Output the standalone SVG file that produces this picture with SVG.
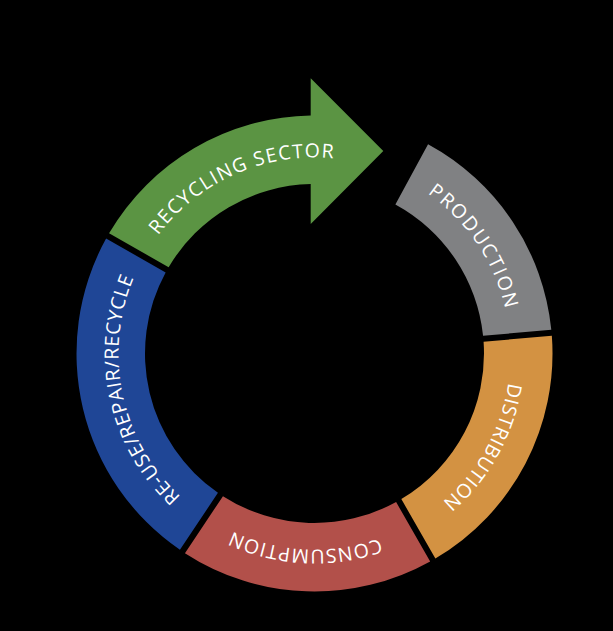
<svg xmlns="http://www.w3.org/2000/svg" width="613" height="631" viewBox="0 0 613 631">
  <style>
    .lbl { font-family: "Open Sans", Lato, "Liberation Sans", sans-serif; font-size: 19.5px; fill: #ffffff; }
    .seg { stroke: none; }
  </style>
  <defs>
    <path id="p-green" d="M 119.66 332.16 A 196 196 0 0 1 430.40 195.44"/>
    <path id="p-gray" d="M 300.83 157.98 A 196 196 0 0 1 490.66 439.42"/>
    <path id="p-orange" d="M 482.33 252.26 A 196 196 0 0 1 318.26 549.46"/>
    <path id="p-red" d="M 479.44 459.39 A 196 196 0 0 1 140.33 443.40"/>
    <path id="p-blue" d="M 254.41 540.06 A 196 196 0 0 1 182.97 208.19"/>
  </defs>
  <rect x="0" y="0" width="613" height="631" fill="#000000"/>
  <g id="connectors"/>
  <g id="recycling-sector">
    <path class="seg" fill="#5b9443" d="M 109.06 233.34 A 238 238 0 0 1 310.7 115.53 L 310.7 78.3 L 383.3 151 L 310.7 224 L 310.7 184.04 A 169.5 169.5 0 0 0 168.63 267.18 Z"/>
    <text class="lbl"><textPath href="#p-green" startOffset="50%" text-anchor="middle" textLength="200" lengthAdjust="spacing">RECYCLING SECTOR</textPath></text>
  </g>
  <g id="production">
    <path class="seg" fill="#808183" d="M 428.06 144.34 A 238 238 0 0 1 551.31 329.77 L 483.07 335.74 A 169.5 169.5 0 0 0 395.38 204.54 Z"/>
    <text class="lbl"><textPath href="#p-gray" startOffset="50%" text-anchor="middle" textLength="142" lengthAdjust="spacing">PRODUCTION</textPath></text>
  </g>
  <g id="distribution">
    <path class="seg" fill="#d39242" d="M 551.84 335.75 A 238 238 0 0 1 435.37 558.52 L 401.33 499.07 A 169.5 169.5 0 0 0 483.59 341.72 Z"/>
    <text class="lbl"><textPath href="#p-orange" startOffset="50%" text-anchor="middle" textLength="139" lengthAdjust="spacing">DISTRIBUTION</textPath></text>
  </g>
  <g id="consumption">
    <path class="seg" fill="#b2504a" d="M 430.17 561.50 A 238 238 0 0 1 184.94 553.15 L 222.96 496.16 A 169.5 169.5 0 0 0 396.12 502.05 Z"/>
    <text class="lbl"><textPath href="#p-red" startOffset="50%" text-anchor="middle" textLength="151" lengthAdjust="spacing">CONSUMPTION</textPath></text>
  </g>
  <g id="reuse-repair-recycle">
    <path class="seg" fill="#1f4696" d="M 179.93 549.80 A 238 238 0 0 1 106.10 238.57 L 165.66 272.41 A 169.5 169.5 0 0 0 217.95 492.82 Z"/>
    <text class="lbl"><textPath href="#p-blue" startOffset="50%" text-anchor="middle" textLength="238" lengthAdjust="spacing">RE-USE/REPAIR/RECYCLE</textPath></text>
  </g>
</svg>
